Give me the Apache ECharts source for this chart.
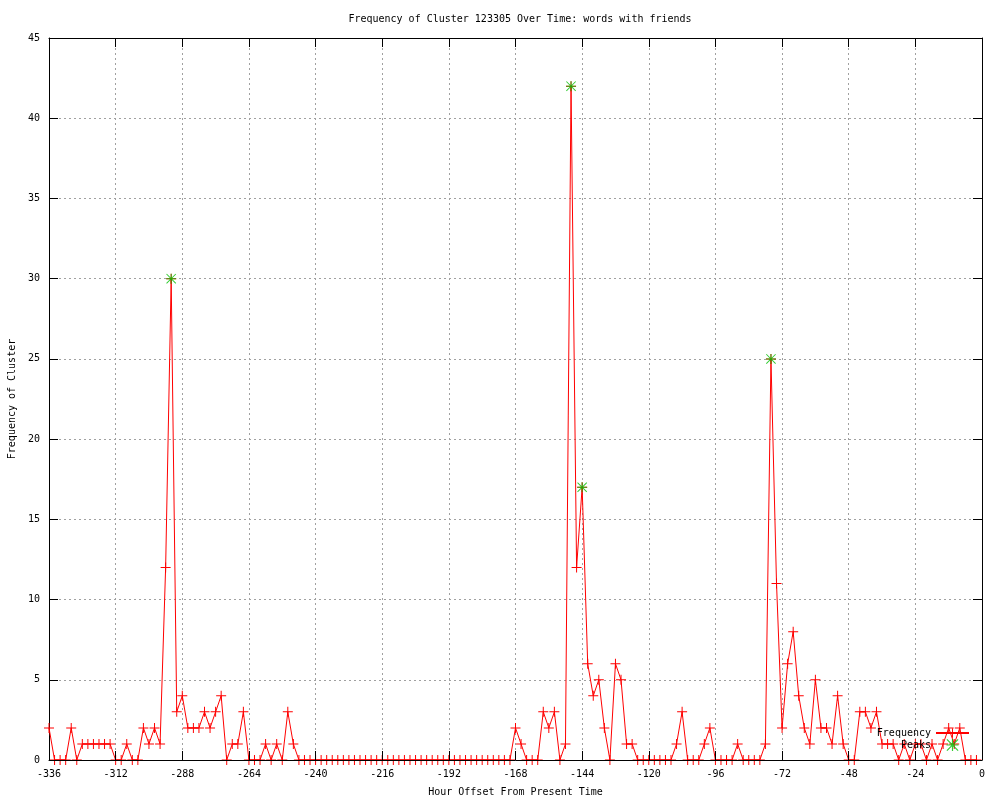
<!DOCTYPE html>
<html>
<head>
<meta charset="utf-8">
<script src="https://cdn.jsdelivr.net/npm/echarts@6/dist/echarts.min.js"></script>
<style>
html,body{margin:0;padding:0;background:#fff;}
#chart{width:1000px;height:800px;}
</style>
</head>
<body>
<div id="chart"></div>
<script>
// Hour offsets: -336 .. -2, every 2 hours
var hourStart = -336;
var hourStep = 2;

// Frequency values, one per 2-hour slot from -336 to -2
var frequency = [
  // -336 .. -248
  2,0,0,0,2,0,1,1,1,1,1,1,0,0,1,0,0,2,1,2,1,12,30,3,4,2,2,2,3,2,3,4,0,1,1,3,0,0,0,1,0,1,0,3,1,
  // -246 .. -170
  0,0,0,0,0,0,0,0,0,0,0,0,0,0,0,0,0,0,0,0,0,0,0,0,0,0,0,0,0,0,0,0,0,0,0,0,0,0,0,
  // -168 .. -2
  2,1,0,0,0,3,2,3,0,1,
  42,12,17,6,4,5,2,0,6,5,
  1,1,0,0,0,0,0,0,0,1,
  3,0,0,0,1,2,0,0,0,0,
  1,0,0,0,0,1,25,11,2,6,
  8,4,2,1,5,2,2,1,4,1,
  0,0,3,3,2,3,1,1,1,0,
  1,0,1,1,0,1,0,1,2,1,
  2,0,0,0
];

// Detected peaks
var peakHours = [-292, -148, -144, -76];
var peakValues = [30, 42, 17, 25];

var xTickMin = -336, xTickMax = 0, xTickStep = 24;
var yTickMin = 0, yTickMax = 45, yTickStep = 5;

var hours = [];
for (var i = 0; i < frequency.length; i++) hours.push(hourStart + i * hourStep);

var freqData = hours.map(function (h, i) { return [h, frequency[i]]; });
var peakData = peakHours.map(function (h, i) { return [h, peakValues[i]]; });

var FONT = 'DejaVu Sans Mono';
var plusPath = 'path://M0,4.5L10,4.5L10,5.5L0,5.5Z M4.5,0L5.5,0L5.5,10L4.5,10Z';
var starPath = 'path://M0,4.5L10,4.5L10,5.5L0,5.5Z M4.5,0L5.5,0L5.5,10L4.5,10Z M0.7,0L10,9.3L9.3,10L0,0.7Z M9.3,0L10,0.7L0.7,10L0,9.3Z';

var chart = echarts.init(document.getElementById('chart'), null, {renderer: 'canvas'});
chart.setOption({
  animation: false,
  backgroundColor: '#ffffff',
  title: {
    text: 'Frequency of Cluster 123305 Over Time: words with friends',
    left: 515, top: 9, textAlign: 'center',
    textStyle: {fontFamily: FONT, fontSize: 10, fontWeight: 'normal', color: '#000'}
  },
  legend: {
    orient: 'vertical',
    right: 30, top: 728,
    align: 'right',
    itemWidth: 33, itemHeight: 12, itemGap: 1,
    padding: 0,
    textStyle: {fontFamily: FONT, fontSize: 10, color: '#000'},
    data: ['Frequency', 'Peaks']
  },
  grid: {left: 49, right: 18, top: 38, bottom: 40, containLabel: false, outerBoundsMode: 'none'},
  xAxis: [
    {
      type: 'value', position: 'bottom', min: xTickMin, max: xTickMax, interval: xTickStep,
      z: 5,
      name: 'Hour Offset From Present Time', nameLocation: 'middle', nameGap: 27,
      nameTextStyle: {fontFamily: FONT, fontSize: 10, color: '#000'},
      axisLine: {show: true, onZero: false, lineStyle: {color: '#000', width: 1}},
      axisTick: {show: true, inside: true, length: 9, lineStyle: {color: '#000'}},
      axisLabel: {fontFamily: FONT, fontSize: 10, color: '#000', margin: 9},
      splitLine: {show: false}
    },
    {
      type: 'value', position: 'top', min: xTickMin, max: xTickMax, interval: xTickStep,
      axisLine: {show: true, onZero: false, lineStyle: {color: '#000', width: 1}},
      axisTick: {show: true, inside: true, length: 9, lineStyle: {color: '#000'}},
      axisLabel: {show: false},
      splitLine: {show: true, lineStyle: {color: '#a0a0a0', width: 1, type: [2, 3]}}
    }
  ],
  yAxis: [
    {
      type: 'value', position: 'left', min: yTickMin, max: yTickMax, interval: yTickStep,
      name: 'Frequency of Cluster', nameLocation: 'middle', nameGap: 32, nameRotate: 90,
      nameTextStyle: {fontFamily: FONT, fontSize: 10, color: '#000'},
      axisLine: {show: true, onZero: false, lineStyle: {color: '#000', width: 1}},
      axisTick: {show: true, inside: true, length: 9, lineStyle: {color: '#000'}},
      axisLabel: {fontFamily: FONT, fontSize: 10, color: '#000', margin: 9},
      splitLine: {show: true, lineStyle: {color: '#a0a0a0', width: 1, type: [2, 3]}}
    },
    {
      type: 'value', position: 'right', min: yTickMin, max: yTickMax, interval: yTickStep,
      axisLine: {show: true, onZero: false, lineStyle: {color: '#000', width: 1}},
      axisTick: {show: true, inside: true, length: 9, lineStyle: {color: '#000'}},
      axisLabel: {show: false},
      splitLine: {show: false}
    }
  ],
  series: [
    {
      name: 'Frequency', type: 'line', xAxisIndex: 0, yAxisIndex: 0,
      data: freqData,
      symbol: plusPath, symbolSize: 10, showSymbol: true, showAllSymbol: true,
      lineStyle: {color: '#ff0000', width: 1},
      itemStyle: {color: '#ff0000'},
      z: 2
    },
    {
      name: 'Peaks', type: 'scatter', xAxisIndex: 0, yAxisIndex: 0,
      data: peakData,
      symbol: starPath, symbolSize: 10,
      itemStyle: {color: '#00c000'},
      z: 3
    }
  ]
});
</script>
</body>
</html>
